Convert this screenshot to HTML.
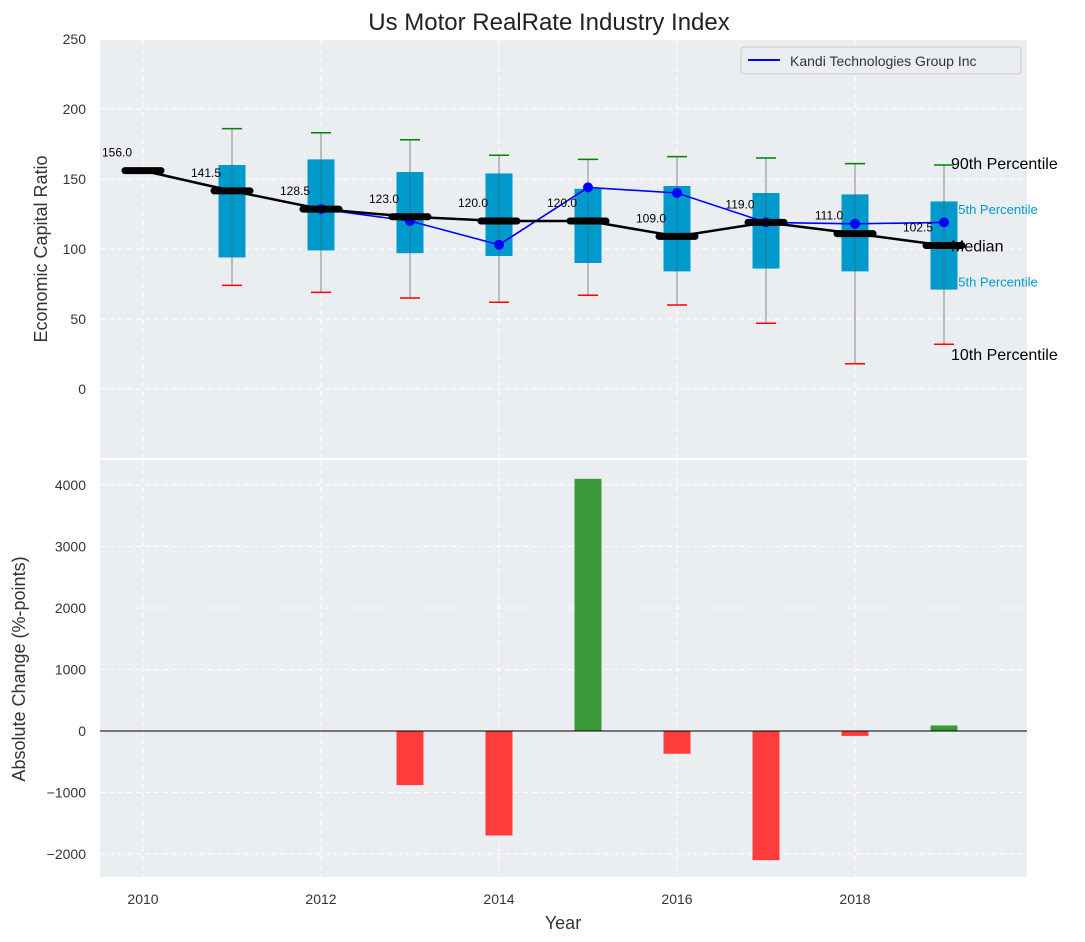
<!DOCTYPE html>
<html><head><meta charset="utf-8">
<style>
html,body{margin:0;padding:0;background:#fff;}
svg{display:block;font-family:"Liberation Sans","DejaVu Sans",sans-serif;}
</style></head>
<body>
<svg id="chart" width="1085" height="942" xmlns="http://www.w3.org/2000/svg">
<text x="549" y="30" font-size="24" text-anchor="middle" fill="#222">Us Motor RealRate Industry Index</text>
<rect x="100" y="40" width="927" height="418" fill="#eaeef0"/>
<rect x="100" y="460" width="927" height="417" fill="#eaeef0"/>
<g id="topG"></g><g id="botG"></g>
<text transform="translate(47,249) rotate(-90)" font-size="18" text-anchor="middle" fill="#333">Economic Capital Ratio</text>
<text transform="translate(25,669) rotate(-90)" font-size="18" text-anchor="middle" fill="#333">Absolute Change (%-points)</text>
<text x="563" y="929" font-size="18" text-anchor="middle" fill="#333">Year</text>
<g>
<rect x="741" y="47" width="280" height="27" rx="3" fill="#eaeef0" stroke="#ccc"/>
<line x1="748" y1="60" x2="780" y2="60" stroke="#0000ff" stroke-width="2"/>
<text x="790" y="66" font-size="14" fill="#333">Kandi Technologies Group Inc</text>
</g>
</svg>
<script>
const years=[2010,2011,2012,2013,2014,2015,2016,2017,2018,2019];
const medians=[156.0,141.5,128.5,123.0,120.0,120.0,109.0,119.0,111.0,102.5];
const boxYears=[2011,2012,2013,2014,2015,2016,2017,2018,2019];
const p90=[186,183,178,167,164,166,165,161,160];
const p75=[160,164,155,154,143,145,140,139,134];
const p25=[94,99,97,95,90,84,86,84,71];
const p10=[74,69,65,62,67,60,47,18,32];
const kandiYears=[2012,2013,2014,2015,2016,2017,2018,2019];
const kandi=[128.5,120,103,144,140,119,118,119];
const changeYears=[2013,2014,2015,2016,2017,2018,2019];
const changes=[-880,-1700,4100,-370,-2100,-80,90];
const topTicks=[0,50,100,150,200,250];
const botTicks=[-2000,-1000,0,1000,2000,3000,4000];
const xTicks=[2010,2012,2014,2016,2018];

const NS='http://www.w3.org/2000/svg';
const X=v=>143+(v-2010)*89;
const YT=v=>389-v*1.4;
const YB=v=>731-v*0.0615;
function mk(p,tag,a){const e=document.createElementNS(NS,tag);for(const k in a)e.setAttribute(k,a[k]);p.appendChild(e);return e;}
const topG=document.getElementById('topG'),botG=document.getElementById('botG');
topTicks.forEach(t=>{const g=mk(topG,'line',{x1:100,x2:1027,y1:YT(t),y2:YT(t),stroke:'#fff','stroke-dasharray':'5,4'});


const l=mk(topG,'text',{x:86,y:YT(t)+5,'font-size':14,'text-anchor':'end',fill:'#334'});l.textContent=t;

});
botTicks.forEach(t=>{const g=mk(botG,'line',{x1:100,x2:1027,y1:YB(t),y2:YB(t),stroke:'#fff','stroke-dasharray':'5,4'});


const l=mk(botG,'text',{x:86,y:YB(t)+5,'font-size':14,'text-anchor':'end',fill:'#334'});l.textContent=t<0?'\u2212'+(-t):t;

});
xTicks.forEach(t=>{[[40,458],[460,877]].forEach(r=>{const g=mk(topG,'line',{x1:X(t),x2:X(t),y1:r[0],y2:r[1],stroke:'#fff','stroke-dasharray':'5,4'});

});
const l=mk(botG,'text',{x:X(t),y:904,'font-size':14,'text-anchor':'middle',fill:'#334'});l.textContent=t;

});
boxYears.forEach((y,i)=>{const x=X(y);
const w=mk(topG,'line',{x1:x,x2:x,y1:YT(p90[i]),y2:YT(p10[i]),stroke:'#888','stroke-width':1});


const b=mk(topG,'rect',{x:x-13.5,y:YT(p75[i]),width:27,height:YT(p25[i])-YT(p75[i]),fill:'#0099cc'});


const w2=mk(topG,'line',{x1:x,x2:x,y1:YT(p75[i]),y2:YT(p25[i]),stroke:'#555','stroke-width':1,opacity:0.5});


const c1=mk(topG,'line',{x1:x-10,x2:x+10,y1:YT(p90[i]),y2:YT(p90[i]),stroke:'green','stroke-width':1.5});


const c2=mk(topG,'line',{x1:x-10,x2:x+10,y1:YT(p10[i]),y2:YT(p10[i]),stroke:'red','stroke-width':1.5});

});
const kp=mk(topG,'polyline',{points:kandiYears.map((y,i)=>X(y)+','+YT(kandi[i])).join(' '),fill:'none',stroke:'#0000ff','stroke-width':1.6});


kandiYears.forEach((y,i)=>{const c=mk(topG,'circle',{cx:X(y),cy:YT(kandi[i]),r:5,fill:'#0000ff'});

});
const ml=mk(topG,'polyline',{points:years.map((y,i)=>X(y)+','+YT(medians[i])).join(' '),fill:'none',stroke:'#000','stroke-width':2.5});


years.forEach((y,i)=>{const x=X(y),yy=YT(medians[i]);
const m=mk(topG,'line',{x1:x-18,x2:x+18,y1:yy,y2:yy,stroke:'#000','stroke-width':7,'stroke-linecap':'round'});


const t=mk(topG,'text',{x:x-26,y:yy-14,'font-size':12,'text-anchor':'middle',fill:'#000'});t.textContent=medians[i].toFixed(1);

});
const lx=X(2019)+7, li=boxYears.length-1;
[['90th Percentile',p90[li],16,'#000',4],['75th Percentile',p75[li]-6,13,'#0099cc',4],['Median',medians[9],16,'#000',6],['25th Percentile',p25[li]+5,13,'#0099cc',4],['10th Percentile',p10[li]-7,16,'#000',6]].forEach(a=>{
const t=mk(topG,'text',{x:lx,y:YT(a[1])+a[4],'font-size':a[2],fill:a[3]});t.textContent=a[0];

});
changeYears.forEach((y,i)=>{const v=changes[i];const y0=YB(Math.max(v,0)),h=Math.abs(YB(v)-YB(0));
const r=mk(botG,'rect',{x:X(y)-13.5,y:y0,width:27,height:h,fill:v>=0?'#3a9a3a':'#ff3c3c'});

});
const z=mk(botG,'line',{x1:100,x2:1027,y1:YB(0),y2:YB(0),stroke:'#000','stroke-width':1});


</script>
</body></html>
